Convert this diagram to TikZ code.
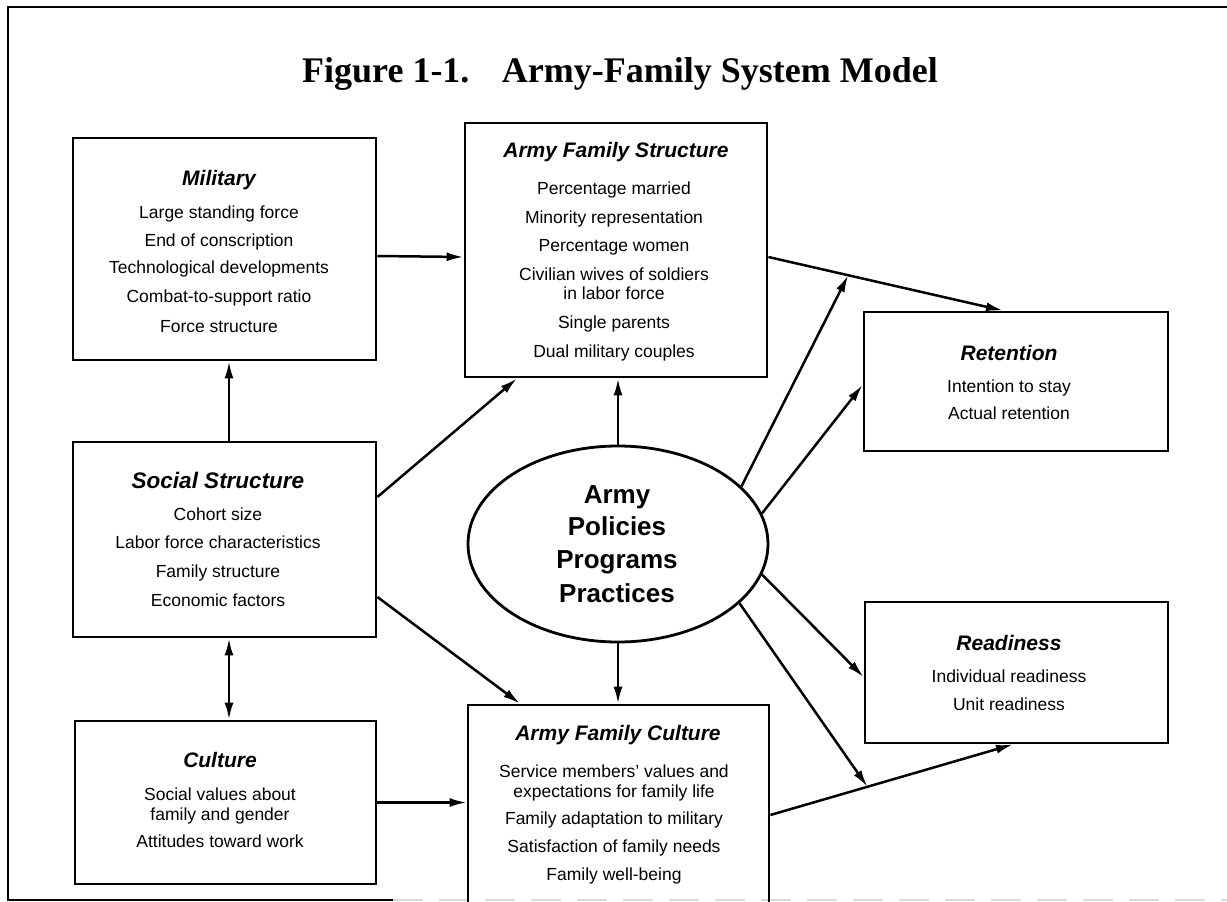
\documentclass[tikz,border=0pt]{standalone}
\usepackage{fontspec}
\setmainfont{Liberation Sans}
\newfontfamily\titlefont{Liberation Serif}
\usetikzlibrary{arrows.meta,shapes.geometric}

\tikzset{
  box/.style={draw, line width=2.8pt, inner sep=0pt, rectangle},
  hd/.style={font=\fontsize{21}{21}\selectfont\bfseries\itshape, anchor=base, inner sep=0pt},
  itm/.style={font=\fontsize{17.5}{17.5}\selectfont, anchor=base, inner sep=0pt},
  big/.style={font=\fontsize{26}{26}\selectfont\bfseries, anchor=base, inner sep=0pt},
  tip/.tip={Latex[length=17pt,width=9pt]},
  arr/.style={line width=2.5pt, -tip},
  darr/.style={line width=2.5pt, tip-tip},
}

\begin{document}
\begin{tikzpicture}[x=1pt,y=-1pt]
\path[use as bounding box] (0,0) rectangle (1227,902);
\clip (0,0) rectangle (1227,902);

% outer frame
\coordinate (fTR) at (1240,7);
\coordinate (fTL) at (8,7);
\coordinate (fBL) at (8,900);
\coordinate (fBM) at (393,900);
\coordinate (fBR) at (1240,900);
\draw[line width=2.8pt] (fTR) -- (fTL) -- (fBL) -- (fBM);
\draw[line width=2pt, gray!30, dash pattern=on 30pt off 16pt] (fBM) -- (fBR);

% title
\node[font=\titlefont\fontsize{36}{36}\selectfont\bfseries, anchor=base, inner sep=0pt]
  (title) at (620,82) {Figure 1-1.\hspace{0.9em}Army-Family System Model};

% boxes
\node[box, minimum width=303pt, minimum height=222pt] (mil) at (224.5,249) {};
\node[box, minimum width=302pt, minimum height=254pt] (afs) at (616,250) {};
\node[box, minimum width=304pt, minimum height=139pt] (ret) at (1016,381.5) {};
\node[box, minimum width=303pt, minimum height=195pt] (soc) at (224.5,539.5) {};
\node[box, minimum width=303pt, minimum height=141pt] (rdy) at (1016.5,672.5) {};
\node[box, minimum width=301pt, minimum height=163pt] (cul) at (225.5,802.5) {};
\node[box, minimum width=301pt, minimum height=235pt] (afc) at (618.5,822.5) {};
\node[draw, ellipse, line width=2.8pt, inner sep=0pt,
      minimum width=300pt, minimum height=196pt] (ell) at (618,544) {};

% box texts
\node[hd] (milH) at (219,185) {Military};
\foreach \yy/\tt [count=\i] in {218/Large standing force, 246/End of conscription,
    273/Technological developments, 302/Combat-to-support ratio, 332/Force structure}
  \node[itm] (mil-\i) at (219,\yy) {\tt};

\node[hd] (afsH) at (616,157) {Army Family Structure};
\foreach \yy/\tt [count=\i] in {194/Percentage married, 223/Minority representation,
    251/Percentage women, 280/Civilian wives of soldiers, 299/in labor force,
    328/Single parents, 357/Dual military couples}
  \node[itm] (afs-\i) at (614,\yy) {\tt};

\node[hd, font=\fontsize{22.5}{22.5}\selectfont\bfseries\itshape] (socH) at (218,488) {Social Structure};
\foreach \yy/\tt [count=\i] in {520/Cohort size, 548/Labor force characteristics,
    577/Family structure, 606/Economic factors}
  \node[itm] (soc-\i) at (218,\yy) {\tt};

\node[hd] (culH) at (220,767) {Culture};
\foreach \yy/\tt [count=\i] in {800/Social values about, 820/family and gender,
    847/Attitudes toward work}
  \node[itm] (cul-\i) at (220,\yy) {\tt};

\node[hd] (afcH) at (618,740) {Army Family Culture};
\foreach \yy/\tt [count=\i] in {777/Service members' values and, 797/expectations for family life,
    824/Family adaptation to military, 852/Satisfaction of family needs, 880/Family well-being}
  \node[itm] (afc-\i) at (614,\yy) {\tt};

\node[hd] (retH) at (1009,360) {Retention};
\foreach \yy/\tt [count=\i] in {392/Intention to stay, 419/Actual retention}
  \node[itm] (ret-\i) at (1009,\yy) {\tt};

\node[hd] (rdyH) at (1009,650) {Readiness};
\foreach \yy/\tt [count=\i] in {682/Individual readiness, 710/Unit readiness}
  \node[itm] (rdy-\i) at (1009,\yy) {\tt};

\foreach \yy/\tt [count=\i] in {503/Army, 535/Policies, 568/Programs, 602/Practices}
  \node[big] (ell-\i) at (617,\yy) {\tt};

% connectors
\draw[arr] ([yshift=-7pt]mil.east) -- ([yshift=-7pt]afs.west);
\draw[arr] ([xshift=4.5pt]soc.north) -- ([xshift=4.5pt]mil.south);
\draw[darr] ([xshift=4.5pt]soc.south) coordinate (sc) -- (sc |- cul.north);
\draw[arr] ([yshift=42.5pt]soc.east) -- ([xshift=-99pt]afs.south);
\draw[arr] ([yshift=-57.5pt]soc.east) -- ([xshift=-98.5pt]afc.north);
\draw[arr] (ell.north) -- (ell.north |- afs.south);
\draw[arr] (ell.south) -- (ell.south |- afc.north);
\draw[arr] (cul.east) -- (cul.east -| afc.west);
\draw[arr] ([yshift=-7pt]afs.east) -- coordinate[pos=0.34] (j1) ([xshift=-13pt]ret.north);
\draw[arr] (ell.25) -- (j1);
\draw[arr] (ell.12) -- ([yshift=-3.5pt]ret.west);
\draw[arr] (ell.348) -- ([yshift=-4.5pt]rdy.west);
\draw[arr] ([yshift=7.5pt]afc.east) -- coordinate[pos=0.40] (j2) ([xshift=-3.5pt]rdy.south);
\draw[arr] (ell.334) -- (j2);
\end{tikzpicture}
\end{document}
